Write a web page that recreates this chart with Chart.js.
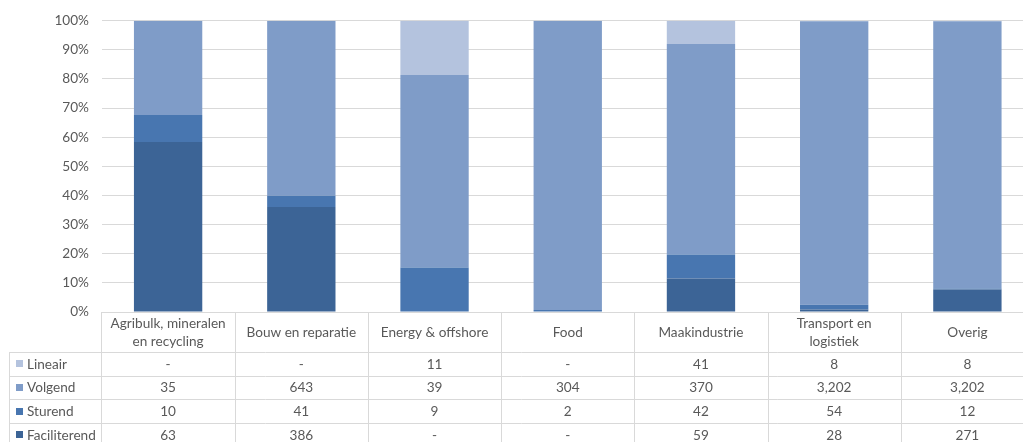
<!DOCTYPE html>
<html>
<head>
<meta charset="utf-8">
<script src="https://cdn.jsdelivr.net/npm/chart.js@4/dist/chart.umd.min.js"></script>
<style>
  html, body { margin: 0; padding: 0; background: #ffffff; overflow: hidden; }
  #wrap { width: 1034px; height: 442px; position: relative; }
</style>
</head>
<body>
<div id="wrap"><canvas id="c"></canvas></div>
<script>
// Sectors (column headers of the data table)
const categories = [
  ['Agribulk, mineralen', 'en recycling'],
  ['Bouw en reparatie'],
  ['Energy & offshore'],
  ['Food'],
  ['Maakindustrie'],
  ['Transport en', 'logistiek'],
  ['Overig']
];

// Counts per role; null = none ("-")
const lineair      = [null, null, 11, null, 41, 8, 8];
const volgend      = [35, 643, 39, 304, 370, 3202, 3202];
const sturend      = [10, 41, 9, 2, 42, 54, 12];
const faciliterend = [63, 386, null, null, 59, 28, 271];

const yTicks = [0, 10, 20, 30, 40, 50, 60, 70, 80, 90, 100];

const colors = {
  Lineair: '#b4c3de',
  Volgend: '#7f9cc8',
  Sturend: '#4876b0',
  Faciliterend: '#3c6496'
};

// Table rows, top to bottom
const tableRows = [
  { name: 'Lineair', values: lineair },
  { name: 'Volgend', values: volgend },
  { name: 'Sturend', values: sturend },
  { name: 'Faciliterend', values: faciliterend }
];

const totals = categories.map((_, i) =>
  [lineair, volgend, sturend, faciliterend].reduce((s, a) => s + (a[i] || 0), 0));
const share = arr => arr.map((v, i) => (v || 0) / totals[i] * 100);

const FONT = 'Lato, "Liberation Sans", sans-serif';
const FONT_SIZE = 13.6;
const TEXT = '#595959';
const LINE = '#d9d9d9';

const dataTable = {
  id: 'dataTable',
  afterDraw(chart) {
    const ctx = chart.ctx;
    const x = chart.scales.x;
    const area = chart.chartArea;
    const n = categories.length;
    const step = x.getPixelForValue(1) - x.getPixelForValue(0);
    const left = x.getPixelForValue(0) - step / 2;
    const right = left + step * n;
    const top = area.bottom;
    const headerH = 40;
    const rowH = 23.7;
    const tableLeft = 9.5;
    const bottom = chart.height + 10;

    ctx.save();
    ctx.strokeStyle = LINE;
    ctx.lineWidth = 1;
    ctx.beginPath();
    // header top line
    ctx.moveTo(left, Math.round(top) + 0.5);
    ctx.lineTo(right, Math.round(top) + 0.5);
    // row lines
    for (let r = 0; r < tableRows.length; r++) {
      const yy = Math.round(top + headerH + r * rowH) + 0.5;
      ctx.moveTo(tableLeft, yy);
      ctx.lineTo(right, yy);
    }
    // column lines
    for (let k = 0; k <= n; k++) {
      const xx = Math.round(left + k * step) + 0.5;
      ctx.moveTo(xx, top);
      ctx.lineTo(xx, bottom);
    }
    ctx.moveTo(tableLeft, top + headerH);
    ctx.lineTo(tableLeft, bottom);
    ctx.stroke();

    ctx.fillStyle = TEXT;
    ctx.font = FONT_SIZE + 'px ' + FONT;
    ctx.textAlign = 'center';
    ctx.textBaseline = 'middle';
    // header labels
    categories.forEach((lines, i) => {
      const cx = x.getPixelForValue(i);
      const cy = top + headerH / 2 + 1;
      const lh = 18;
      lines.forEach((t, j) => {
        ctx.fillText(t, cx, cy + (j - (lines.length - 1) / 2) * lh);
      });
    });
    // rows
    tableRows.forEach((row, r) => {
      const cy = top + headerH + r * rowH + rowH / 2 + 0.5;
      ctx.fillStyle = colors[row.name];
      ctx.fillRect(16, Math.round(cy - 4), 7, 7);
      ctx.fillStyle = TEXT;
      ctx.textAlign = 'left';
      ctx.fillText(row.name, 27, cy);
      ctx.textAlign = 'center';
      row.values.forEach((v, i) => {
        const label = v ? v.toLocaleString('en-US') : '-';
        ctx.fillText(label, x.getPixelForValue(i), cy);
      });
    });
    ctx.restore();
  }
};

const mkSet = (name, arr) => ({
  label: name,
  data: share(arr),
  backgroundColor: colors[name],
  borderWidth: 0,
  barPercentage: 0.513,
  categoryPercentage: 1
});

new Chart(document.getElementById('c'), {
  type: 'bar',
  data: {
    labels: categories.map(l => l.join(' ')),
    datasets: [
      mkSet('Faciliterend', faciliterend),
      mkSet('Sturend', sturend),
      mkSet('Volgend', volgend),
      mkSet('Lineair', lineair)
    ]
  },
  options: {
    responsive: true,
    maintainAspectRatio: false,
    animation: false,
    layout: { padding: { top: 19.5, bottom: 130, left: 0, right: 0 } },
    plugins: { legend: { display: false }, tooltip: { enabled: false } },
    scales: {
      x: { stacked: true, display: false },
      y: {
        stacked: true,
        min: yTicks[0],
        max: yTicks[yTicks.length - 1],
        afterBuildTicks(scale) { scale.ticks = yTicks.map(v => ({ value: v })); },
        afterFit(scale) { scale.width = 101.5; },
        border: { display: false },
        grid: { color: LINE, lineWidth: 1, drawTicks: false },
        ticks: {
          padding: 12.5,
          color: TEXT,
          font: { family: FONT, size: FONT_SIZE },
          callback: v => v + '%'
        }
      }
    }
  },
  plugins: [dataTable]
});
</script>
</body>
</html>
